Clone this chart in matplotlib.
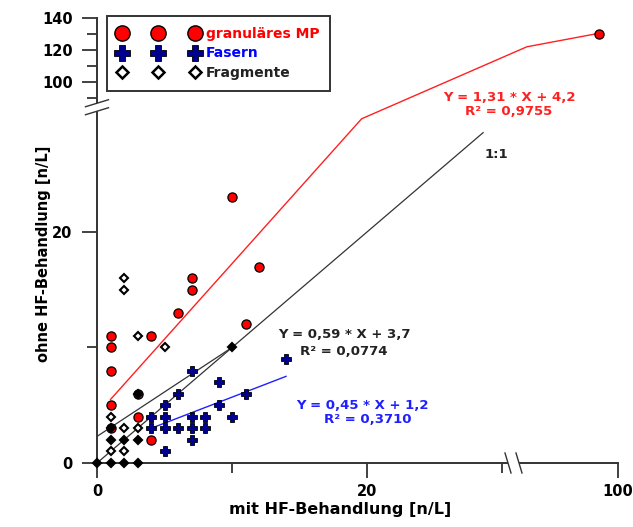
import numpy as np
import matplotlib
matplotlib.use("Agg")
import matplotlib.pyplot as plt
from matplotlib.lines import Line2D
from matplotlib.patches import Polygon
from matplotlib.transforms import ScaledTranslation

# granular MP (red circles)
gran_x = [10, 12, 7, 7, 6, 11, 1, 4, 1, 1, 3, 1, 3, 1, 4, 98]
gran_y = [23, 17, 16, 15, 13, 12, 11, 11, 10, 8, 6, 5, 4, 3, 2, 130]

# fibres (blue crosses)
fas_x = [4, 5, 6, 7, 8, 4, 5, 7, 8, 10, 5, 9, 6, 11, 9, 7, 7, 5, 14]
fas_y = [3, 3, 3, 3, 3, 4, 4, 4, 4, 4, 5, 5, 6, 6, 7, 8, 2, 1, 9]

# fragments (open diamonds), and the ones stacked on top of each other
frag_x = [1, 2, 2, 3, 1, 3, 5, 2, 2]
frag_y = [1, 1, 3, 3, 4, 11, 10, 15, 16]
frag_stack_x = [0, 1, 2, 3, 1, 2, 3, 1, 3, 10]
frag_stack_y = [0, 0, 0, 0, 2, 2, 2, 3, 6, 10]

# fitted lines as drawn
red_fit_x = [1, 19.6, 90.2, 98]
red_fit_y = [5.5, 29.8, 122, 130.5]
black_fit_x = [0, 10]
black_fit_y = [2.3, 10]
blue_fit_x = [4, 14]
blue_fit_y = [3.0, 7.5]
one_x = [0, 28.6]
one_y = [0, 28.6]

# broken axes: 0-30 linear, gap, then compressed upper part
X_KNOTS = [-1000, 0, 30, 90, 100, 1000]
X_SCREEN = [-1000, 0, 30, 31.7, 38.59, 38.59 + 900 * 0.689]
Y_KNOTS = [-1000, 0, 30, 90, 140, 1000]
Y_SCREEN = [-1000, 0, 30, 31.6, 38.525, 38.525 + 860 * 0.1385]


def fx(v):
    return np.interp(v, X_KNOTS, X_SCREEN)


def fx_inv(v):
    return np.interp(v, X_SCREEN, X_KNOTS)


def fy(v):
    return np.interp(v, Y_KNOTS, Y_SCREEN)


def fy_inv(v):
    return np.interp(v, Y_SCREEN, Y_KNOTS)


plt.rcParams['font.family'] = ['DejaVu Sans']
plt.rcParams['font.weight'] = 'bold'

fig = plt.figure(figsize=(6.33, 5.27), dpi=100)
ax = fig.add_axes([97 / 633, 64 / 527, 521 / 633, 445 / 527])
ax.set_xscale('function', functions=(fx, fx_inv))
ax.set_yscale('function', functions=(fy, fy_inv))
ax.set_xlim(0, 100)
ax.set_ylim(0, 140)

ax.plot(one_x, one_y, color='#333333', lw=0.9, zorder=2)
ax.plot(black_fit_x, black_fit_y, color='#333333', lw=0.9, zorder=2)
ax.plot(red_fit_x, red_fit_y, color='#ff2020', lw=1.0, zorder=2)
ax.plot(blue_fit_x, blue_fit_y, color='#2020ff', lw=1.0, zorder=2)

ax.plot(gran_x, gran_y, ls='none', marker='o', ms=6.6, mfc='#ff0000', mec='black',
        mew=0.9, zorder=4, clip_on=False)
ax.plot(fas_x, fas_y, ls='none', marker='P', ms=7, mfc='#000090', mec='black',
        mew=0.6, zorder=5, clip_on=False)
ax.plot(frag_x, frag_y, ls='none', marker='D', ms=4.3, mfc='white', mec='black',
        mew=1.5, zorder=6, clip_on=False)
ax.plot(frag_stack_x, frag_stack_y, ls='none', marker='D', ms=4.3, mfc='black',
        mec='black', mew=1.5, zorder=6, clip_on=False)

# axes look
for side in ['top', 'right']:
    ax.spines[side].set_visible(False)
for side in ['left', 'bottom']:
    ax.spines[side].set_color('#333333')
    ax.spines[side].set_linewidth(1.4)

ax.set_xticks([0, 20, 100])
ax.set_xticks([10, 30], minor=True)
ax.set_yticks([0, 20, 100, 120, 140])
ax.set_yticks([10, 90, 110, 130], minor=True)
ax.tick_params(which='major', direction='out', length=11, width=1.3,
               color='#333333', labelsize=10.5, pad=4)
ax.tick_params(axis='y', which='major', pad=6.5)
ax.tick_params(which='minor', direction='out', length=7, width=1.3,
               color='#333333')

ax.set_xlabel('mit HF-Behandlung [n/L]', fontsize=11.5, fontweight='bold')
ax.set_ylabel('ohne HF-Behandlung [n/L]', fontsize=10.5, fontweight='bold')
ax.xaxis.set_label_coords(0.466, -0.088)
ax.yaxis.set_label_coords(-0.088, 0.47)


def axis_break(x, y, lines):
    # two short slanted strokes (inches) centred on data point (x, y)
    tr = fig.dpi_scale_trans + ScaledTranslation(x, y, ax.transData)
    (a, b), (c, d) = lines
    gap = Polygon([a, b, d, c], closed=True, facecolor='white', edgecolor='none',
                  transform=tr, clip_on=False, zorder=3)
    ax.add_patch(gap)
    for p, q in lines:
        ax.add_line(Line2D([p[0], q[0]], [p[1], q[1]], color='#333333', lw=1.0,
                           transform=tr, clip_on=False, zorder=3.1))


axis_break(60, 0, [((-0.085, 0.10), (-0.025, -0.10)),
                   ((0.025, 0.10), (0.085, -0.10))])
axis_break(0, 60, [((-0.115, 0.005), (0.115, 0.075)),
                   ((-0.115, -0.075), (0.115, -0.005))])

# equations
eq_size = 9.5
ax.text(0.791, 0.822, 'Y = 1,31 * X + 4,2', color='#ff2020', fontsize=eq_size,
        ha='center', va='center', transform=ax.transAxes)
ax.text(0.791, 0.789, 'R² = 0,9755', color='#ff2020', fontsize=eq_size,
        ha='center', va='center', transform=ax.transAxes)
ax.text(0.474, 0.288, 'Y = 0,59 * X + 3,7', color='#222222', fontsize=eq_size,
        ha='center', va='center', transform=ax.transAxes)
ax.text(0.474, 0.250, 'R² = 0,0774', color='#222222', fontsize=eq_size,
        ha='center', va='center', transform=ax.transAxes)
ax.text(0.509, 0.130, 'Y = 0,45 * X + 1,2', color='#2020ff', fontsize=eq_size,
        ha='center', va='center', transform=ax.transAxes)
ax.text(0.520, 0.097, 'R² = 0,3710', color='#2020ff', fontsize=eq_size,
        ha='center', va='center', transform=ax.transAxes)
ax.text(0.766, 0.694, '1:1', color='#222222', fontsize=eq_size,
        ha='center', va='center', transform=ax.transAxes)

handles = [
    Line2D([], [], ls='none', marker='o', ms=11, mfc='#ff0000', mec='black', mew=1.0),
    Line2D([], [], ls='none', marker='P', ms=11, mfc='#000090', mec='black', mew=0.6),
    Line2D([], [], ls='none', marker='D', ms=6.5, mfc='white', mec='black', mew=1.8),
]
leg = ax.legend(handles, ['granuläres MP', 'Fasern', 'Fragmente'], numpoints=3,
                loc='upper left', bbox_to_anchor=(0.0192, 1.0045), borderaxespad=0,
                fontsize=10, handlelength=5.8, handletextpad=0.5, borderpad=0.8,
                labelspacing=0.38, fancybox=False, framealpha=1)
leg.get_frame().set_edgecolor('#333333')
leg.get_frame().set_linewidth(1.4)
for txt, col in zip(leg.get_texts(), ['#ff0000', '#0000ff', '#222222']):
    txt.set_color(col)
    txt.set_fontweight('bold')

fig.savefig('out.png', dpi=100)
